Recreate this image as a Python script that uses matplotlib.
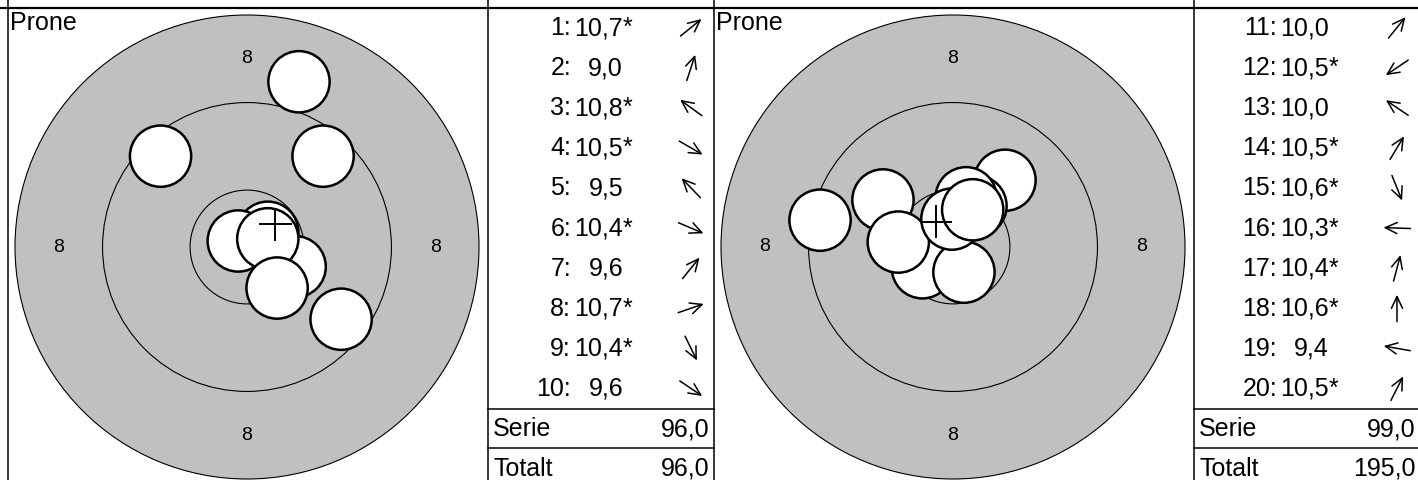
import numpy as np
import matplotlib.pyplot as plt
from matplotlib.patches import Circle

plt.rcParams['font.family'] = ['Liberation Sans', 'DejaVu Sans']

# 50m rifle target, drawn out to the 8 ring (radii in mm)
ring_r = [5.2, 13.2, 21.2]
ring_label = "8"
shot_r = 2.8  # .22 hole

position = "Prone"
shot_no = list(range(1, 21))
scores = [10.7, 9.0, 10.8, 10.5, 9.5, 10.4, 9.6, 10.7, 10.4, 9.6,
          10.0, 10.5, 10.0, 10.5, 10.6, 10.3, 10.4, 10.6, 9.4, 10.5]
inner_ten = [1, 0, 1, 1, 0, 1, 0, 1, 1, 0,
             0, 1, 0, 1, 1, 1, 1, 1, 0, 1]
# shot positions (mm from centre)
shot_x = [1.9, 4.75, -0.8, 3.3, -7.9, 4.4, 6.95, 1.9, 2.75, 8.6,
          4.75, -2.8, -6.4, 2.1, 1.0, -5.0, 1.2, -0.1, -12.15, 1.8]
shot_y = [1.35, 15.1, 0.55, -1.35, 8.3, -1.8, 8.3, 0.75, -3.75, -6.6,
          6.1, -1.9, 4.3, 3.75, -2.3, 0.45, 4.5, 2.55, 2.45, 3.4]
# direction arrows in the list (degrees, counter-clockwise from east)
arrow_deg = [39, 72, 144, -30, 134, -23, 51, 19, -64, -34,
             51, -146, 146, 59, -68, 178, 75, 90, 170, 63]
series_size = 10

W, H = 1418, 480
fig = plt.figure(figsize=(W / 100, H / 100), dpi=100)

ax0 = fig.add_axes([0, 0, 1, 1])
ax0.set_xlim(0, W)
ax0.set_ylim(H, 0)
ax0.axis('off')

px_per_mm = 232 / ring_r[-1]
half = 240  # half size of target box, px
panel_w = 706
table_w = 226
row_h = 40.1
top = 7.5
fs = 18

def fmt(v):
    return f"{v:.1f}".replace(".", ",")

# frame
ax0.plot([0, W], [top, top], color='black', lw=1.6)
for xv in [8, 488, 714, 1194]:
    ax0.plot([xv, xv], [0, H], color='black', lw=1.1)

total = 0
n_series = len(scores) // series_size
for s in range(n_series):
    x0 = s * panel_w
    cx = x0 + 247
    sl = slice(s * series_size, (s + 1) * series_size)
    xs = np.array(shot_x[sl])
    ys = np.array(shot_y[sl])

    # target
    ax = fig.add_axes([(cx - half) / W, (H - (247 + half)) / H,
                       2 * half / W, 2 * half / H])
    lim = half / px_per_mm
    ax.set_xlim(-lim, lim)
    ax.set_ylim(-lim, lim)
    ax.set_aspect('equal')
    ax.axis('off')
    ax.add_patch(Circle((0, 0), ring_r[-1], fc='#c0c0c0', ec='black', lw=0.8))
    for r in ring_r[:-1]:
        ax.add_patch(Circle((0, 0), r, fc='none', ec='black', lw=0.8))
    lr = (ring_r[1] + ring_r[2]) / 2
    for dx, dy in [(0, 1), (0, -1), (-1, 0), (1, 0)]:
        ax.text(dx * lr, dy * lr, ring_label, fontsize=14,
                ha='center', va='center')
    for x, y in zip(xs, ys):
        ax.add_patch(Circle((x, y), shot_r, fc='white', ec='black', lw=1.8))
    mx, my = xs.mean(), ys.mean()
    c = 1.4
    ax.plot([mx - c, mx + c], [my, my], color='black', lw=1.4)
    ax.plot([mx, mx], [my - c, my + c], color='black', lw=1.4)

    ax0.text(x0 + 10, top + 23, position, fontsize=fs, ha='left', va='baseline')

    # shot list
    tx = x0 + 488
    for i in range(series_size):
        k = s * series_size + i
        yc = top + row_h * (i + 0.5)
        ax0.text(tx + 83, yc + 7.5, f"{shot_no[k]}:", fontsize=fs,
                 ha='right', va='baseline')
        ax0.text(tx + 135, yc + 7.5, fmt(scores[k]), fontsize=fs,
                 ha='right', va='baseline')
        if inner_ten[k]:
            ax0.text(tx + 135, yc + 7.5, "*", fontsize=fs,
                     ha='left', va='baseline')
        a = np.deg2rad(arrow_deg[k])
        L = 13.5
        ax_c = tx + 203
        ax0.annotate('', xy=(ax_c + L * np.cos(a), yc - L * np.sin(a)),
                     xytext=(ax_c - L * np.cos(a), yc + L * np.sin(a)),
                     arrowprops=dict(arrowstyle='->,head_length=0.85,head_width=0.4',
                                     mutation_scale=10, lw=1.1, color='black',
                                     shrinkA=0, shrinkB=0))

    serie = sum(int(np.floor(v)) for v in scores[sl])
    total += serie
    y1 = top + row_h * series_size
    y2 = y1 + 39
    for yl in [y1, y2]:
        ax0.plot([tx, tx + table_w], [yl, yl], color='black', lw=1.1)
    ax0.text(tx + 5, y1 + 28, "Serie", fontsize=fs, ha='left', va='baseline')
    ax0.text(tx + 222, y1 + 28, fmt(serie), fontsize=fs, ha='right', va='baseline')
    ax0.text(tx + 5, y2 + 28, "Totalt", fontsize=fs, ha='left', va='baseline')
    ax0.text(tx + 222, y2 + 28, fmt(total), fontsize=fs, ha='right', va='baseline')

fig.savefig('out.png', dpi=100)
